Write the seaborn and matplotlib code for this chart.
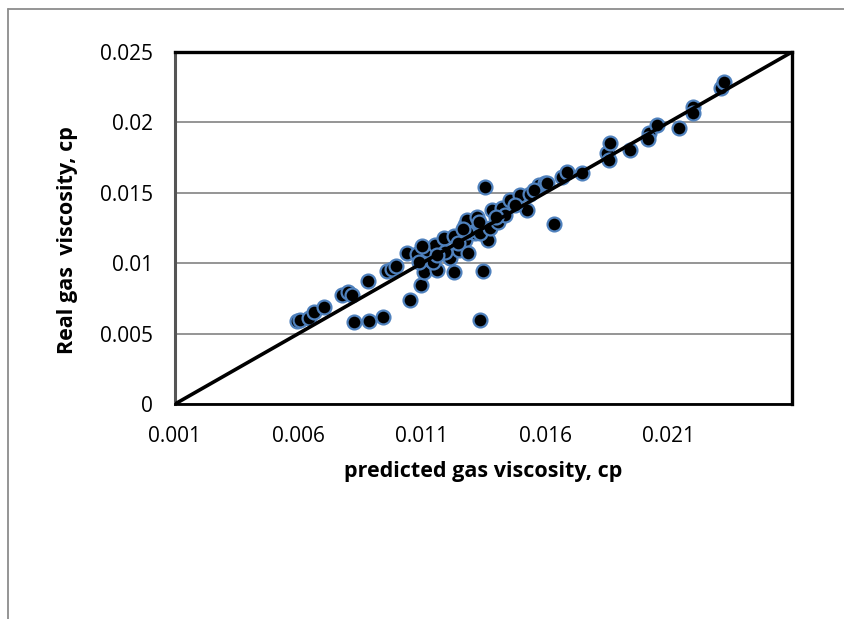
import matplotlib
matplotlib.use("Agg")
import matplotlib.pyplot as plt
import seaborn as sns
import pandas as pd
from matplotlib.lines import Line2D

# ---- data ----
predicted = [
    0.00595, 0.00607, 0.00641, 0.00662, 0.00704, 0.00776, 0.00799, 0.00817,
    0.00826, 0.00885, 0.00941, 0.00881, 0.00958, 0.00979, 0.00996, 0.01053,
    0.01096, 0.01042, 0.01080, 0.01121, 0.01110, 0.01154, 0.01161, 0.01188,
    0.01147, 0.01229, 0.01229, 0.01215, 0.01249, 0.01276, 0.01310, 0.01276,
    0.01289, 0.01317, 0.01350, 0.01337, 0.01357, 0.01283, 0.01323, 0.01384,
    0.01425, 0.01458, 0.01499, 0.01540, 0.01573, 0.01600, 0.01526, 0.01370,
    0.01337, 0.01283, 0.01634, 0.01668, 0.01688, 0.01749, 0.01607, 0.01553,
    0.01851, 0.01857, 0.01861, 0.01942, 0.02019, 0.02015, 0.02053, 0.02141,
    0.02199, 0.02199, 0.02313, 0.02323,
    0.01248, 0.01195, 0.01378, 0.01410, 0.01438, 0.01479, 0.01100, 0.01268,
    0.01330, 0.01400, 0.01163, 0.01087,
]
real = [
    0.00589, 0.00597, 0.00613, 0.00653, 0.00692, 0.00774, 0.00793, 0.00774,
    0.00585, 0.00592, 0.00618, 0.00872, 0.00945, 0.00957, 0.00982, 0.00737,
    0.00843, 0.01070, 0.01065, 0.01094, 0.00940, 0.01129, 0.00952, 0.01177,
    0.01011, 0.01193, 0.00937, 0.01035, 0.01094, 0.01271, 0.01283, 0.01165,
    0.01070, 0.01212, 0.00945, 0.00597, 0.01543, 0.01307, 0.01330, 0.01378,
    0.01390, 0.01449, 0.01484, 0.01491, 0.01555, 0.01567, 0.01378, 0.01165,
    0.01212, 0.01224, 0.01278, 0.01614, 0.01650, 0.01638, 0.01572, 0.01520,
    0.01780, 0.01733, 0.01856, 0.01804, 0.01922, 0.01880, 0.01981, 0.01958,
    0.02111, 0.02069, 0.02242, 0.02289,
    0.01143, 0.01080, 0.01250, 0.01293, 0.01342, 0.01413, 0.01120, 0.01245,
    0.01290, 0.01330, 0.01060, 0.01005,
]
line_x = [0.001, 0.026]
line_y = [0.0, 0.025]
x_ticks = [0.001, 0.006, 0.011, 0.016, 0.021]
x_tick_labels = ["0.001", "0.006", "0.011", "0.016", "0.021"]
y_ticks = [0.0, 0.005, 0.01, 0.015, 0.02, 0.025]
y_tick_labels = ["0", "0.005", "0.01", "0.015", "0.02", "0.025"]

df = pd.DataFrame({"predicted": predicted, "real": real})

sns.set_theme(style="white")
plt.rcParams["font.family"] = ["Open Sans", "DejaVu Sans"]

fig = plt.figure(figsize=(8.45, 6.19), dpi=100)
ax = fig.add_axes([175 / 845, 1 - 404 / 619, (792 - 175) / 845, (404 - 52) / 619])

ax.set_xlim(0.001, 0.026)
ax.set_ylim(0, 0.025)
ax.set_yticks(y_ticks)
ax.set_yticklabels(y_tick_labels)
ax.set_xticks(x_ticks)
ax.set_xticklabels(x_tick_labels)
ax.yaxis.grid(True, color="#8c8c8c", linewidth=1.3)
ax.xaxis.grid(False)
ax.set_axisbelow(True)

sns.scatterplot(data=df, x="predicted", y="real", ax=ax, s=100,
                color="black", edgecolor="#4f81bd", linewidth=1.6, zorder=3)
sns.lineplot(x=line_x, y=line_y, ax=ax, color="black", linewidth=2.6, zorder=4)

ax.tick_params(axis="both", length=0, labelsize=15, colors="black")
ax.tick_params(axis="x", pad=16)
ax.tick_params(axis="y", pad=16)
ax.set_xlabel("")
ax.set_ylabel("")

for side in ["top", "right"]:
    ax.spines[side].set_color("black")
    ax.spines[side].set_linewidth(2.4)
ax.spines["bottom"].set_color("black")
ax.spines["bottom"].set_linewidth(2.0)
ax.spines["left"].set_color("#555555")
ax.spines["left"].set_linewidth(2.2)
for s in ax.spines.values():
    s.set_visible(True)

fig.text(483 / 845, 1 - 472 / 619, "predicted gas viscosity, cp",
         ha="center", va="center", fontsize=15.5, fontweight="bold", color="black")
fig.text(68 / 845, 1 - 240 / 619, "Real gas  viscosity, cp",
         ha="center", va="center", rotation=90, fontsize=15.5, fontweight="bold",
         color="black")

# outer chart-area border (top and left edges visible)
fig.add_artist(Line2D([8 / 845, 1.0], [1 - 9 / 619, 1 - 9 / 619],
                      transform=fig.transFigure, color="#8c8c8c", linewidth=1.3))
fig.add_artist(Line2D([8 / 845, 8 / 845], [0.0, 1 - 9 / 619],
                      transform=fig.transFigure, color="#8c8c8c", linewidth=1.3))

fig.savefig("out.png", dpi=100, facecolor="white")
